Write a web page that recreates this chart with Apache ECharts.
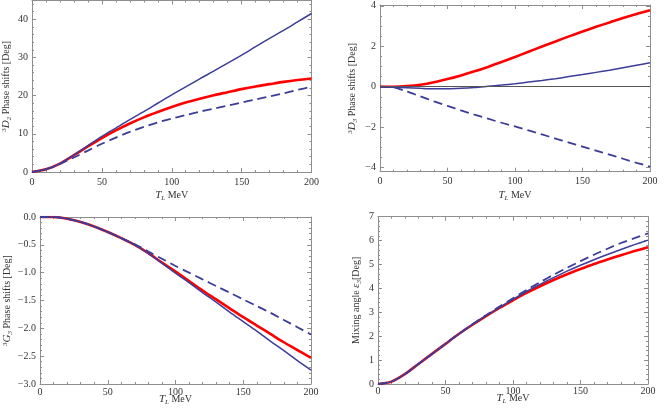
<!DOCTYPE html>
<html>
<head>
<meta charset="utf-8">
<script src="https://cdn.jsdelivr.net/npm/echarts@6/dist/echarts.min.js"></script>
<style>
  html, body { margin: 0; padding: 0; background: #fff; }
  #chart { width: 664px; height: 411px; }
</style>
</head>
<body>
<div id="chart"></div>
<script>
// lab energy T_L (MeV)
const energies = [0, 10, 20, 30, 40, 50, 60, 70, 80, 90, 100, 110, 120, 130, 140, 150, 160, 170, 180, 190, 200];

// 3D2
const d2Red    = [0, 0.7, 2.2, 4.4, 6.7, 8.9, 10.9, 12.7, 14.3, 15.7, 17.0, 18.2, 19.2, 20.1, 20.9, 21.7, 22.4, 23.0, 23.6, 24.1, 24.5];
const d2Solid  = [0, 0.7, 2.2, 4.5, 6.9, 9.3, 11.5, 13.7, 15.8, 18.0, 20.2, 22.3, 24.4, 26.4, 28.5, 30.6, 32.8, 35.0, 37.1, 39.3, 41.5];
const d2Dashed = [0, 0.7, 2.1, 3.8, 5.6, 7.4, 9.0, 10.5, 11.8, 13.0, 14.0, 14.9, 15.8, 16.6, 17.4, 18.2, 19.0, 19.8, 20.6, 21.5, 22.3];

// 3D3
const d3Red    = [0, 0.0, 0.03, 0.1, 0.22, 0.38, 0.56, 0.76, 0.98, 1.22, 1.47, 1.73, 1.99, 2.24, 2.49, 2.73, 2.96, 3.18, 3.4, 3.6, 3.78];
const d3Solid  = [0, -0.02, -0.05, -0.08, -0.1, -0.1, -0.08, -0.04, 0.02, 0.08, 0.15, 0.23, 0.31, 0.4, 0.5, 0.6, 0.71, 0.82, 0.94, 1.06, 1.18];
const d3Dashed = [0, -0.03, -0.24, -0.48, -0.72, -0.95, -1.17, -1.38, -1.58, -1.78, -1.96, -2.16, -2.36, -2.56, -2.76, -2.96, -3.16, -3.36, -3.56, -3.76, -3.95];

// 3G3
const g3Red    = [0, 0, -0.03, -0.09, -0.17, -0.27, -0.38, -0.5, -0.65, -0.82, -0.98, -1.15, -1.32, -1.48, -1.64, -1.8, -1.95, -2.1, -2.25, -2.39, -2.53];
const g3Solid  = [0, 0, -0.03, -0.09, -0.17, -0.27, -0.38, -0.5, -0.66, -0.83, -1.01, -1.18, -1.36, -1.53, -1.71, -1.88, -2.05, -2.23, -2.4, -2.58, -2.75];
const g3Dashed = [0, 0, -0.03, -0.09, -0.17, -0.27, -0.38, -0.49, -0.62, -0.75, -0.88, -1.0, -1.12, -1.24, -1.36, -1.48, -1.6, -1.72, -1.85, -1.98, -2.11];

// mixing angle eps3
const epsRed    = [0, 0.1, 0.42, 0.84, 1.26, 1.68, 2.1, 2.48, 2.84, 3.18, 3.5, 3.81, 4.09, 4.35, 4.59, 4.81, 5.02, 5.21, 5.39, 5.56, 5.72];
const epsSolid  = [0, 0.1, 0.42, 0.84, 1.26, 1.68, 2.1, 2.49, 2.86, 3.2, 3.54, 3.87, 4.17, 4.45, 4.72, 4.97, 5.2, 5.42, 5.63, 5.83, 6.02];
const epsDashed = [0, 0.1, 0.42, 0.84, 1.26, 1.68, 2.1, 2.5, 2.88, 3.24, 3.59, 3.93, 4.26, 4.57, 4.86, 5.14, 5.41, 5.66, 5.9, 6.1, 6.3];

// 3D3 panel tick values (its frame runs from -4.2, so ticks are listed)
const d3Major = [-4, -2, 0, 2, 4];
const d3Minor = [-4, -3.5, -3, -2.5, -2, -1.5, -1, -0.5, 0, 0.5, 1, 1.5, 2, 2.5, 3, 3.5, 4];

const FONT = 'Liberation Serif';
const FRAME = '#8e8e8e';
const BLUE = '#3d3d99';
const RED = '#ff0000';

function pairs(ys) {
  return energies.map(function (e, i) { return [e, ys[i]]; });
}

function minus(v, digits) {
  let s = v.toFixed(digits);
  if (Number(s) === 0) s = (0).toFixed(digits);
  return s.replace('-', '\u2212');
}

const rich = {
  i:   { fontFamily: FONT, fontSize: 11, fontStyle: 'italic', color: '#333' },
  sub: { fontFamily: FONT, fontSize: 7, fontStyle: 'italic', color: '#333', padding: [6, 0, 0, 0] },
  sup: { fontFamily: FONT, fontSize: 7, color: '#333', padding: [0, 0, 5, 0] },
  n:   { fontFamily: FONT, fontSize: 10, color: '#333' }
};

const grids = [
  { left: 32, top: 0.5, width: 279.5, height: 171.5 },
  { left: 380, top: 5, width: 270, height: 166.7 },
  { left: 40, top: 217, width: 271, height: 167 },
  { left: 378, top: 216.7, width: 270, height: 167.3 }
].map(function (g) { return Object.assign({ containLabel: false, outerBoundsMode: 'none' }, g); });

// per panel: y range, interval, minor splits, label digits, y name, gaps
const panels = [
  { min: 0, max: 44.9, interval: 10, split: 5, digits: 0, showMax: false, name: '{sup|3}{i|D}{sub|2}{n| Phase shifts [Deg]}', yGap: 19, xGap: 17, xMargin: 5 },
  { min: -4.2, max: 4.04, interval: 2, split: 4, digits: 0, showMax: true, name: '{sup|3}{i|D}{sub|3}{n| Phase shifts [Deg]}', yGap: 21, xGap: 17, xMargin: 5 },
  { min: -3, max: 0, interval: 0.5, split: 5, digits: 1, showMax: true, name: '{sup|3}{i|G}{sub|3}{n| Phase shifts [Deg]}', yGap: 26, xGap: 9, xMargin: 3 },
  { min: 0, max: 7, interval: 1, split: 5, digits: 0, showMax: true, name: '{n|Mixing angle }{i|\u03b5}{sub|3}{n|[Deg]}', yGap: 15, xGap: 8, xMargin: 2 }
];

function frameAxis() {
  return {
    axisLine: { show: true, onZero: false, lineStyle: { color: FRAME, width: 1 } },
    axisTick: { show: true, inside: true, length: 4, lineStyle: { color: FRAME } },
    minorTick: { show: true, splitNumber: 5, length: 2, lineStyle: { color: FRAME } },
    splitLine: { show: false }
  };
}

const xAxes = [];
const yAxes = [];
panels.forEach(function (p, g) {
  xAxes.push(Object.assign(frameAxis(), {
    type: 'value', gridIndex: g, position: 'bottom', min: 0, max: 200, interval: 50,
    axisLabel: { fontFamily: FONT, fontSize: 10, color: '#333', margin: p.xMargin },
    name: '{i|T}{sub|L}{n| MeV}', nameLocation: 'middle', nameGap: p.xGap, nameMoveOverlap: false,
    nameTextStyle: { rich: rich }
  }));
  xAxes.push(Object.assign(frameAxis(), {
    type: 'value', gridIndex: g, position: 'top', min: 0, max: 200, interval: 50,
    axisLabel: { show: false }
  }));

  const label = {
    fontFamily: FONT, fontSize: 10, color: '#333', margin: 4,
    showMaxLabel: p.showMax, showMinLabel: true,
    formatter: function (v) { return minus(v, p.digits); }
  };
  const left = Object.assign(frameAxis(), {
    type: 'value', gridIndex: g, position: 'left', min: p.min, max: p.max, interval: p.interval,
    axisLabel: label,
    name: p.name, nameLocation: 'middle', nameGap: p.yGap, nameRotate: 90, nameMoveOverlap: false,
    nameTextStyle: { rich: rich }
  });
  left.minorTick.splitNumber = p.split;
  const right = Object.assign(frameAxis(), {
    type: 'value', gridIndex: g, position: 'right', min: p.min, max: p.max, interval: p.interval,
    axisLabel: { show: false }
  });
  right.minorTick.splitNumber = p.split;

  if (g === 1) {
    // explicit ticks for the 3D3 frame
    [left, right].forEach(function (a) {
      delete a.interval;
      a.minorTick.show = false;
      a.axisTick.customValues = d3Major;
    });
    left.axisLabel.customValues = d3Major;
    left.axisLabel.showMinLabel = null;
    left.axisLabel.showMaxLabel = null;
  }
  yAxes.push(left);
  yAxes.push(right);
});

// short minor ticks on both sides of the 3D3 frame
['left', 'right'].forEach(function (side) {
  yAxes.push({
    type: 'value', gridIndex: 1, position: side, offset: 0, min: -4.2, max: 4.04,
    axisLine: { show: false, onZero: false },
    axisTick: { show: true, inside: true, length: 2, customValues: d3Minor, lineStyle: { color: FRAME } },
    axisLabel: { show: false },
    splitLine: { show: false }
  });
});

const seriesSets = [
  [d2Red, d2Solid, d2Dashed],
  [d3Red, d3Solid, d3Dashed],
  [g3Red, g3Solid, g3Dashed],
  [epsRed, epsSolid, epsDashed]
];

const series = [];
seriesSets.forEach(function (set, g) {
  const base = { type: 'line', xAxisIndex: g * 2, yAxisIndex: g * 2, showSymbol: false, symbol: 'none', smooth: 0.3, silent: true, animation: false };
  const red = Object.assign({}, base, { data: pairs(set[0]), lineStyle: { color: RED, width: 2.6 }, z: 2 });
  if (g === 1) {
    red.markLine = {
      silent: true, symbol: 'none', label: { show: false },
      lineStyle: { color: '#555', width: 1, type: 'solid' },
      data: [{ yAxis: 0 }]
    };
  }
  series.push(red);
  series.push(Object.assign({}, base, { data: pairs(set[1]), lineStyle: { color: BLUE, width: 1.5 }, z: 3 }));
  series.push(Object.assign({}, base, { data: pairs(set[2]), lineStyle: { color: BLUE, width: 1.8, type: [9, 5] }, z: 4 }));
});

const chart = echarts.init(document.getElementById('chart'));
chart.setOption({
  animation: false,
  grid: grids,
  xAxis: xAxes,
  yAxis: yAxes,
  series: series
});
</script>
</body>
</html>
